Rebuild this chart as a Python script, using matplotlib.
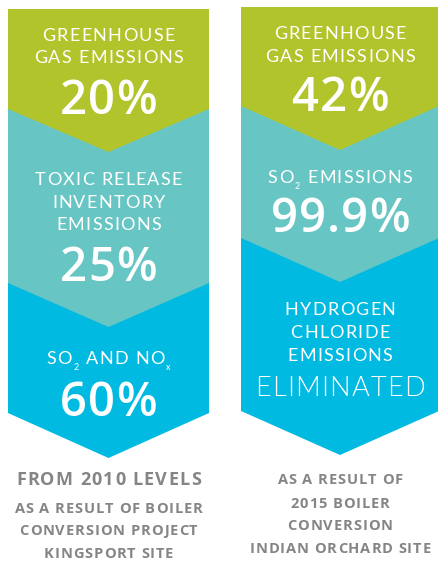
import matplotlib
matplotlib.use("Agg")
import matplotlib.pyplot as plt
from matplotlib.font_manager import FontProperties

# values
left_labels = [["GREENHOUSE", "GAS EMISSIONS"],
               ["TOXIC RELEASE", "INVENTORY", "EMISSIONS"],
               ["SO_2 AND NO_x"]]
left_values = ["20%", "25%", "60%"]
left_notes = ["FROM 2010 LEVELS", "AS A RESULT OF BOILER", "CONVERSION PROJECT", "KINGSPORT SITE"]

right_labels = [["GREENHOUSE", "GAS EMISSIONS"],
                ["SO_2 EMISSIONS"],
                ["HYDROGEN", "CHLORIDE", "EMISSIONS"]]
right_values = ["42%", "99.9%", "ELIMINATED"]
right_notes = ["AS A RESULT OF", "2015 BOILER", "CONVERSION", "INDIAN ORCHARD SITE"]

colors = ["#b2c42b", "#67c6c4", "#00bae2"]
gray = "#858585"

# layout (pixels, y down)
cols = [
    dict(x0=8, x1=209, top=9, sides=[109, 283, 413], tips=[152, 327, 458],
         label_base=[[41, 63], [185, 208, 230], [364]], value_base=[114, 281, 416],
         note_base=[485, 513, 535, 558]),
    dict(x0=241, x1=439, top=7, sides=[106, 238, 411], tips=[150, 282, 455],
         label_base=[[39, 62], [183], [315, 338, 361]], value_base=[111, 232, 396],
         note_base=[484, 508, 530, 553]),
]

fig = plt.figure(figsize=(4.38, 5.61), dpi=100)
ax = fig.add_axes([0, 0, 1, 1])
ax.set_xlim(0, 438)
ax.set_ylim(561, 0)
ax.axis("off")
r = fig.canvas.get_renderer()


def parse(s):
    out = []
    i = 0
    while i < len(s):
        if s[i] == "_":
            out.append((s[i + 1], True))
            i += 2
        else:
            out.append((s[i], False))
            i += 1
    return out


def adv(c, prop):
    w2 = r.get_text_width_height_descent("II", prop, ismath=False)[0]
    w3 = r.get_text_width_height_descent("I" + c + "I", prop, ismath=False)[0]
    return w3 - w2


def tracked(xc, base, s, size, track, color="white", weight="normal", family="Lato"):
    prop = FontProperties(family=family, size=size, weight=weight)
    sprop = FontProperties(family=family, size=size * 0.5, weight=weight)
    chars = parse(s)
    widths = [adv(c, sprop if sub else prop) for c, sub in chars]
    total = sum(widths) + track * (len(chars) - 1)
    x = xc - total / 2
    for (c, sub), w in zip(chars, widths):
        p = sprop if sub else prop
        dy = 6 if sub else 0
        ax.text(x + w / 2, base + dy, c, fontproperties=p, color=color,
                ha="center", va="baseline")
        x += w + track


for col, labels, values, notes in [(cols[0], left_labels, left_values, left_notes),
                                   (cols[1], right_labels, right_values, right_notes)]:
    x0, x1 = col["x0"], col["x1"]
    xc = (x0 + x1) / 2
    for k in [2, 1, 0]:
        ax.fill([x0, x1, x1, xc, x0],
                [col["top"], col["top"], col["sides"][k], col["tips"][k], col["sides"][k]],
                color=colors[k], lw=0)
    for k in range(3):
        for line, b in zip(labels[k], col["label_base"][k]):
            tracked(xc, b, line, 13, 1.3)
        v = values[k]
        if v == "ELIMINATED":
            tracked(xc, col["value_base"][k], v, 19.5, 1.3, weight=300)
        else:
            tracked(xc, col["value_base"][k], v, 34, 1.0, weight="semibold", family="Open Sans")
    for i, (line, b) in enumerate(zip(notes, col["note_base"])):
        if col is cols[0] and i == 0:
            tracked(xc, b, line, 13, 1.3, color=gray, weight="bold", family="Open Sans")
        else:
            tracked(xc, b, line, 10.5, 0.9, color=gray, weight="bold", family="Open Sans")

fig.savefig("out.png", dpi=100)
